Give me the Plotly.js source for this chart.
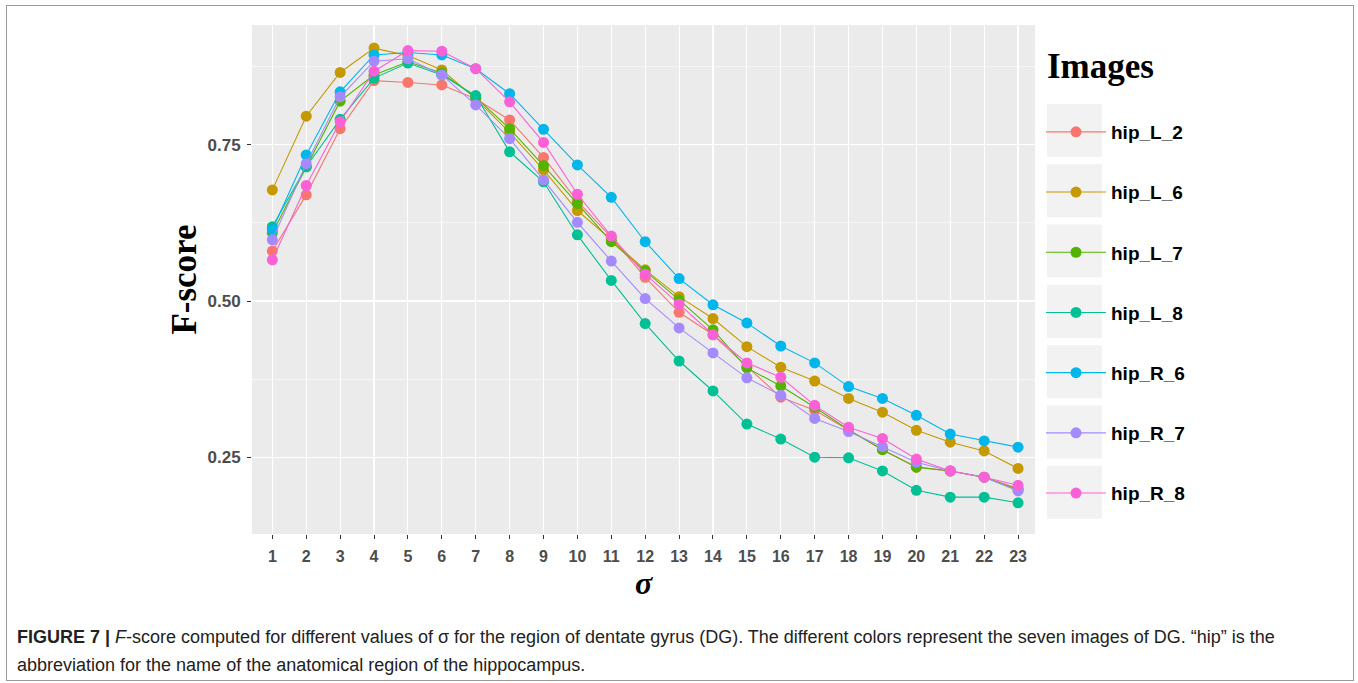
<!DOCTYPE html>
<html>
<head>
<meta charset="utf-8">
<script src="https://cdn.plot.ly/plotly-3.0.1.min.js"></script>
<style>
  html, body { margin: 0; padding: 0; background: #fff; }
  #chart { width: 1358px; height: 683px; }
  #frame { position: absolute; left: 6px; top: 5px; width: 1346px; height: 674px; border: 1px solid #9a9a9a; pointer-events: none; }
</style>
</head>
<body>
<div id="chart"></div>
<div id="frame"></div>
<script>
const sigma = [1,2,3,4,5,6,7,8,9,10,11,12,13,14,15,16,17,18,19,20,21,22,23];
const seriesNames = ['hip_L_2','hip_L_6','hip_L_7','hip_L_8','hip_R_6','hip_R_7','hip_R_8'];
const seriesColors = ['#F8766D','#C49A00','#53B400','#00C094','#00B6EB','#A58AFF','#FB61D7'];

const hip_L_2 = [0.580,0.670,0.776,0.853,0.850,0.846,0.824,0.790,0.730,0.660,0.602,0.538,0.482,0.446,0.395,0.346,0.325,0.294,0.262,0.234,0.228,0.218,0.200];
const hip_L_6 = [0.678,0.796,0.866,0.905,0.893,0.870,0.824,0.770,0.710,0.645,0.598,0.550,0.507,0.472,0.427,0.394,0.372,0.344,0.322,0.293,0.274,0.260,0.232];
const hip_L_7 = [0.609,0.715,0.820,0.862,0.883,0.865,0.826,0.776,0.717,0.656,0.595,0.548,0.502,0.454,0.393,0.364,0.330,0.294,0.262,0.234,0.228,0.218,0.198];
const hip_L_8 = [0.619,0.715,0.791,0.857,0.881,0.862,0.829,0.739,0.691,0.606,0.533,0.464,0.404,0.356,0.303,0.279,0.250,0.249,0.228,0.197,0.186,0.186,0.177];
const hip_R_6 = [0.614,0.734,0.835,0.894,0.898,0.894,0.872,0.832,0.775,0.718,0.666,0.595,0.536,0.494,0.465,0.428,0.401,0.363,0.344,0.317,0.287,0.276,0.266];
const hip_R_7 = [0.598,0.720,0.827,0.884,0.888,0.862,0.814,0.760,0.694,0.626,0.564,0.504,0.457,0.417,0.377,0.349,0.312,0.291,0.267,0.242,0.228,0.218,0.196];
const hip_R_8 = [0.566,0.685,0.787,0.868,0.901,0.900,0.872,0.819,0.754,0.671,0.604,0.543,0.495,0.446,0.401,0.378,0.333,0.298,0.280,0.247,0.228,0.218,0.205];

const yTickVals = [0.25, 0.50, 0.75];
const yTickText = ['0.25', '0.50', '0.75'];

const allSeries = [hip_L_2, hip_L_6, hip_L_7, hip_L_8, hip_R_6, hip_R_7, hip_R_8];

const traces = allSeries.map((vals, i) => ({
  type: 'scatter',
  mode: 'lines+markers',
  x: sigma,
  y: vals,
  name: seriesNames[i],
  legendgroup: seriesNames[i],
  line: { color: seriesColors[i], width: 1.1 },
  marker: { color: seriesColors[i], size: 11 },
  hoverinfo: 'skip'
}));

// layout geometry (pixels)
const W = 1358, H = 683;
const mL = 252, mR = 323, mT = 25, mB = 149;
const plotW = W - mL - mR, plotH = H - mT - mB;
const px2x = p => (p - mL) / plotW;
const px2y = p => (H - mB - p) / plotH;

// grey legend key boxes
const shapes = [];
for (let i = 0; i < seriesNames.length; i++) {
  const top = 104 + i * 60.3;
  shapes.push({
    type: 'rect', xref: 'paper', yref: 'paper', layer: 'below',
    x0: px2x(1047), x1: px2x(1102), y0: px2y(top), y1: px2y(top + 53),
    fillcolor: '#F2F2F2', line: { width: 0 }
  });
}

const layout = {
  width: W, height: H,
  margin: { l: mL, r: mR, t: mT, b: mB, pad: 0 },
  paper_bgcolor: '#FFFFFF',
  plot_bgcolor: '#EBEBEB',
  showlegend: true,
  hovermode: false,
  xaxis: {
    range: [0.4, 23.5],
    tickmode: 'array',
    tickvals: sigma,
    ticktext: sigma.map(String),
    showgrid: true, gridcolor: '#FFFFFF', gridwidth: 1.1,
    zeroline: false, showline: false,
    ticks: 'outside', ticklen: 4, tickwidth: 1, tickcolor: '#333333',
    ticklabelstandoff: 4,
    tickfont: { family: 'Liberation Sans, Arial, sans-serif', size: 16, color: '#4D4D4D', weight: 'bold' },
    title: { text: '<b><i>σ</i></b>', font: { family: 'Liberation Serif, Times New Roman, serif', size: 32, color: '#000' }, standoff: 4 },
    fixedrange: true
  },
  yaxis: {
    range: [0.127, 0.942],
    tickmode: 'array',
    tickvals: yTickVals,
    ticktext: yTickText,
    showgrid: true, gridcolor: '#FFFFFF', gridwidth: 1.1,
    minor: { tickvals: [0.125, 0.375, 0.625, 0.875], showgrid: true, gridcolor: '#FFFFFF', gridwidth: 0.55, ticks: '' },
    zeroline: false, showline: false,
    ticks: 'outside', ticklen: 4, tickwidth: 1, tickcolor: '#333333',
    ticklabelstandoff: 3,
    tickfont: { family: 'Liberation Sans, Arial, sans-serif', size: 17, color: '#4D4D4D', weight: 'bold' },
    title: { text: '<b>F-score</b>', font: { family: 'Liberation Serif, Times New Roman, serif', size: 35, color: '#000' }, standoff: 0 },
    fixedrange: true
  },
  legend: {
    x: px2x(1041), xanchor: 'left',
    y: px2y(113), yanchor: 'top',
    bgcolor: 'rgba(0,0,0,0)',
    borderwidth: 0,
    traceorder: 'grouped',
    tracegroupgap: 32.5,
    itemwidth: 60,
    itemclick: false, itemdoubleclick: false,
    font: { family: 'Liberation Sans, Arial, sans-serif', size: 19, color: '#000', weight: 'bold' }
  },
  shapes: shapes,
  annotations: [
    {
      xref: 'paper', yref: 'paper', x: px2x(1045), y: px2y(66), xanchor: 'left', yanchor: 'middle',
      showarrow: false, text: '<b>Images</b>',
      font: { family: 'Liberation Serif, Times New Roman, serif', size: 35, color: '#000' }
    },
    {
      xref: 'paper', yref: 'paper', x: px2x(15), y: px2y(637), xanchor: 'left', yanchor: 'middle',
      showarrow: false, align: 'left',
      text: '<b>FIGURE 7 |</b> <i>F</i>-score computed for different values of σ for the region of dentate gyrus (DG). The different colors represent the seven images of DG. “hip” is the',
      font: { family: 'Liberation Sans, Arial, sans-serif', size: 18, color: '#222' }
    },
    {
      xref: 'paper', yref: 'paper', x: px2x(15), y: px2y(665), xanchor: 'left', yanchor: 'middle',
      showarrow: false, align: 'left',
      text: 'abbreviation for the name of the anatomical region of the hippocampus.',
      font: { family: 'Liberation Sans, Arial, sans-serif', size: 18, color: '#222' }
    }
  ]
};

Plotly.newPlot('chart', traces, layout, { displayModeBar: false, staticPlot: true });
</script>
</body>
</html>
